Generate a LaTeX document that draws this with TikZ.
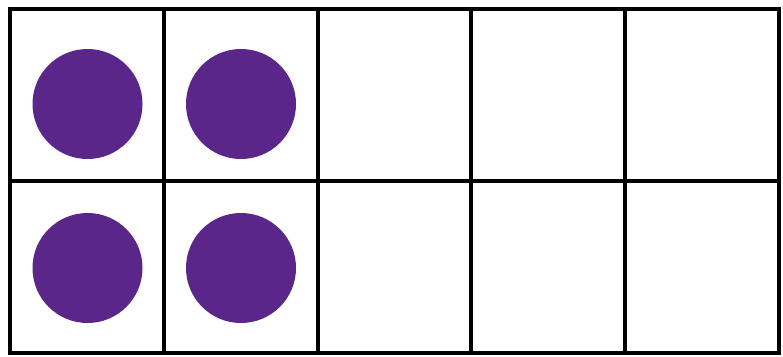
\documentclass[tikz,border=0pt]{standalone}
\definecolor{dotpurple}{RGB}{90,38,138}
\begin{document}
\begin{tikzpicture}[x=1pt,y=-1pt,every node/.style={inner sep=0pt}]
\useasboundingbox (0,0) rectangle (783,356);
\draw[line width=3.5pt] (10,9) rectangle (779,353);
\draw[line width=3.5pt] (10,181)--(779,181);
\foreach \x in {164,318,471,625} \draw[line width=3.5pt] (\x,9)--(\x,353);
\node[circle,fill=dotpurple,minimum size=110pt] (dotA) at (87.5,104) {};
\node[circle,fill=dotpurple,minimum size=110pt] (dotB) at (241,104) {};
\node[circle,fill=dotpurple,minimum size=110pt] (dotC) at (87.5,268) {};
\node[circle,fill=dotpurple,minimum size=110pt] (dotD) at (241,268) {};
\end{tikzpicture}
\end{document}
